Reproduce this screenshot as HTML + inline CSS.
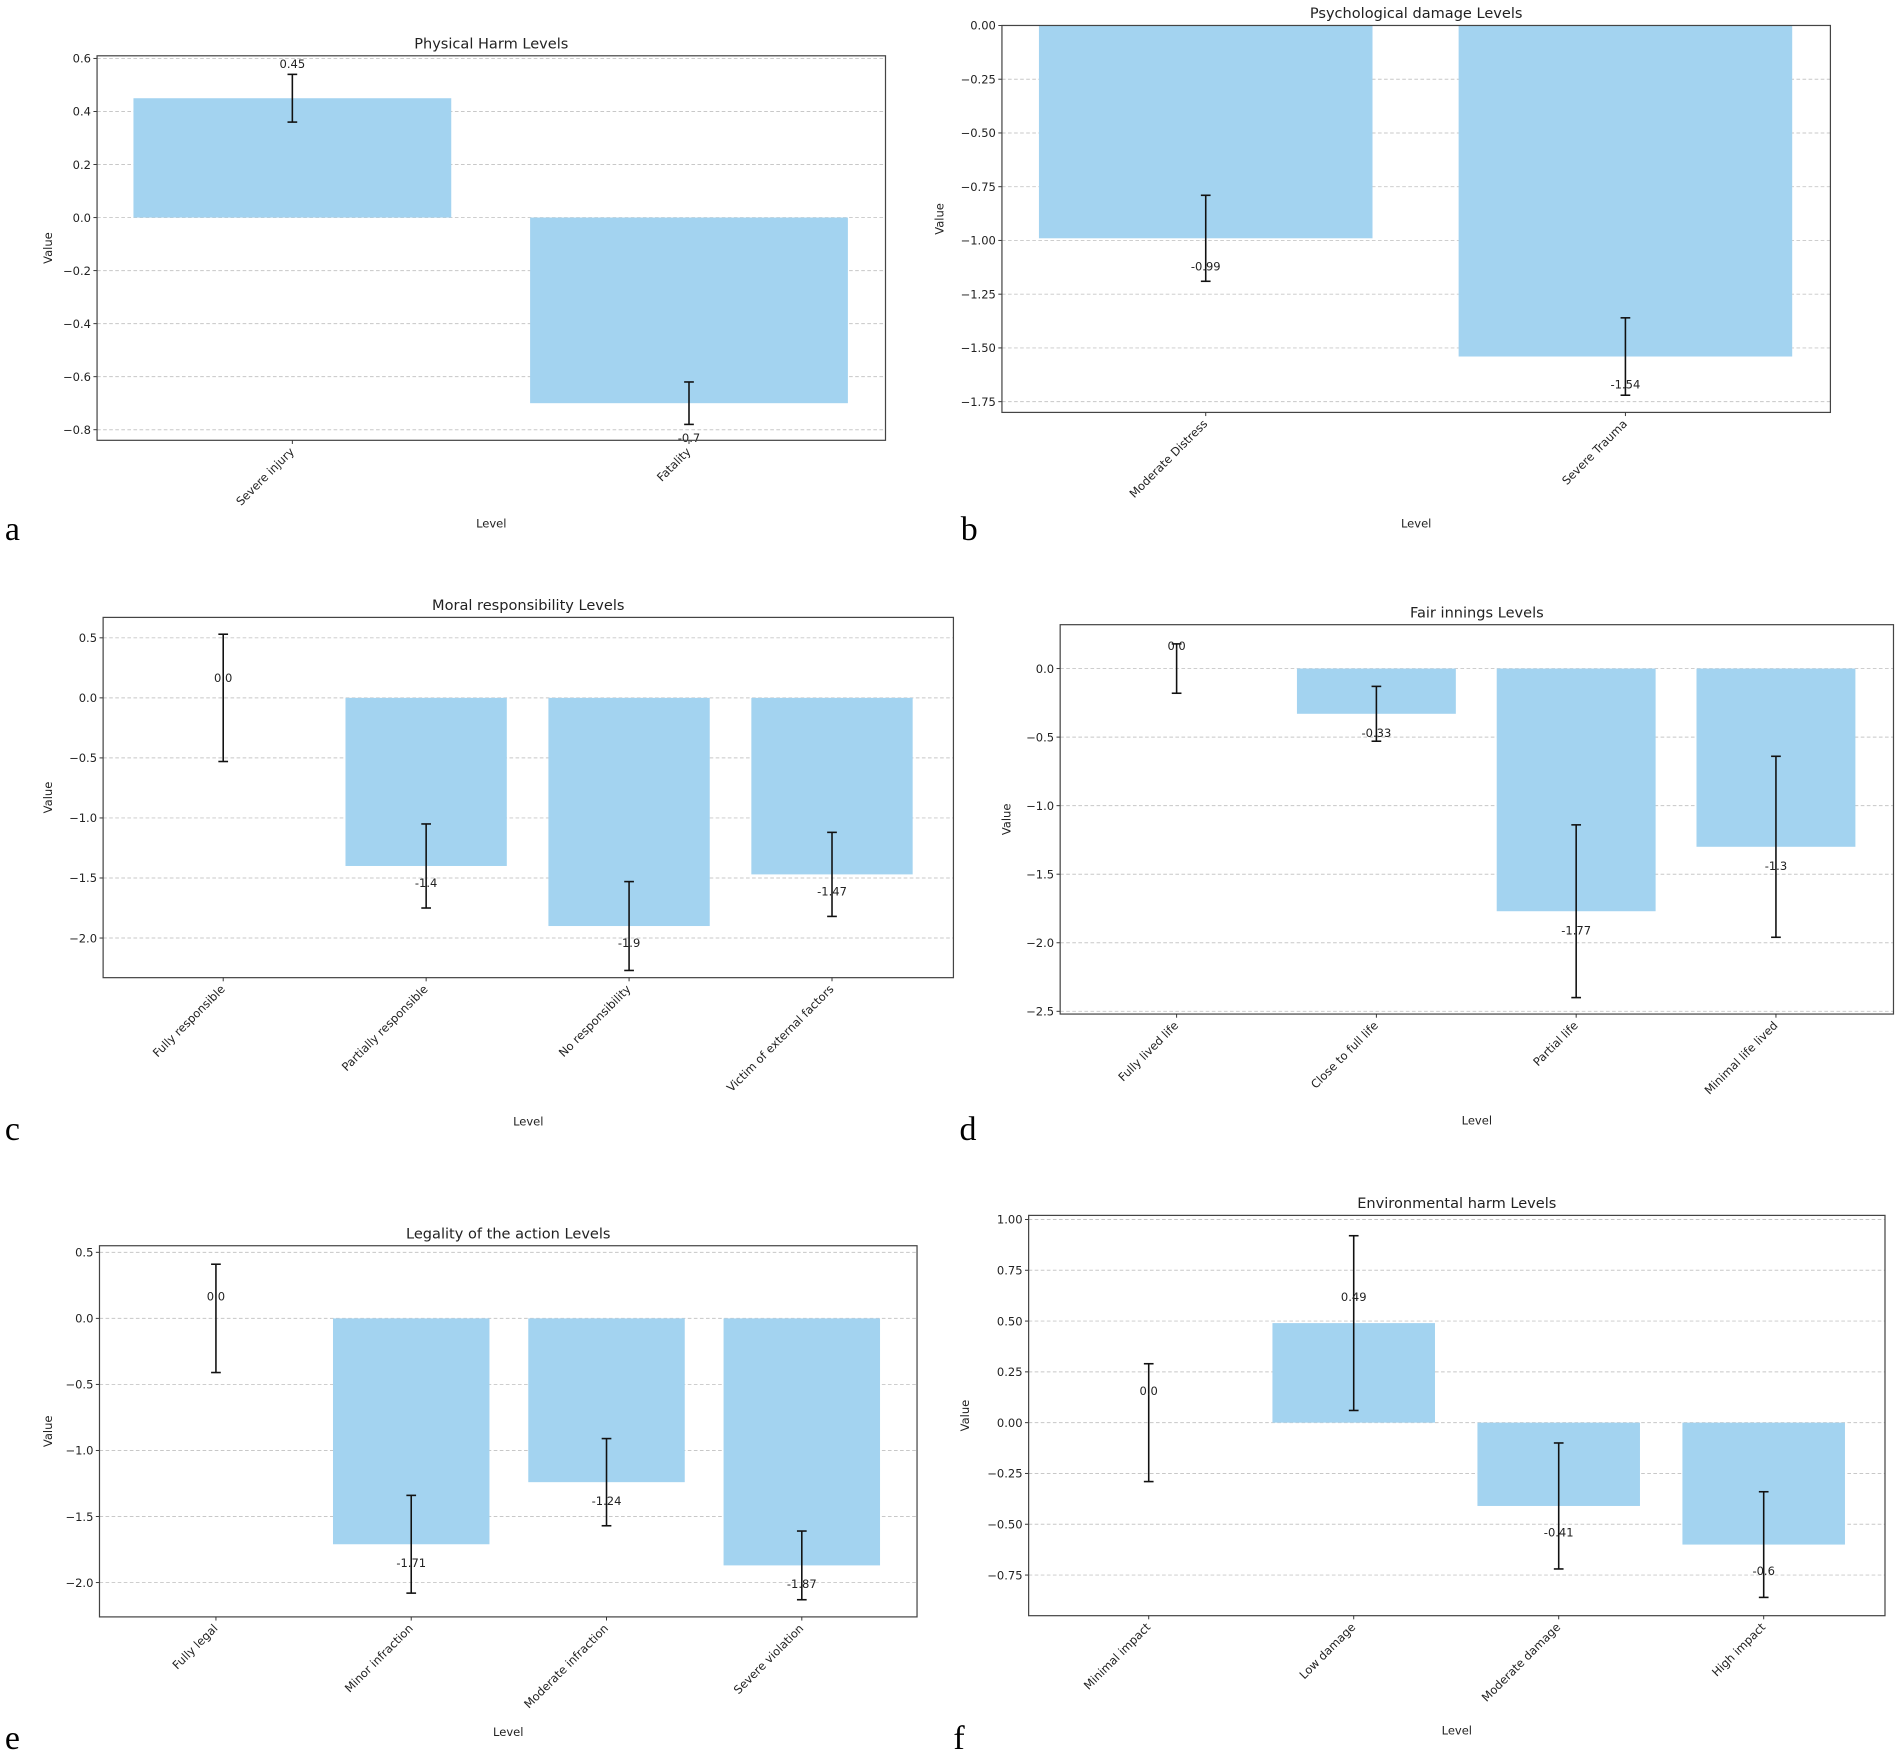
<!DOCTYPE html>
<html><head><meta charset="utf-8">
<style>
html,body{margin:0;padding:0;background:#fff;}
svg{display:block;}
text{font-family:"DejaVu Sans","Liberation Sans",sans-serif;fill:#222;}
.tick{font-size:9.5px;}
.title{font-size:12px;}
.letter{font-family:"Liberation Serif",serif;font-size:28px;fill:#000;}
</style></head>
<body>
<svg id="fig" width="1902" height="1757" viewBox="0 0 1568 1448.5" xmlns="http://www.w3.org/2000/svg"></svg>
<script>
// Panel a
const catsA=["Severe injury","Fatality"];
const valsA=[0.45,-0.7];
const errA=[0.09,0.08];
const ticksA=[0.6,0.4,0.2,0.0,-0.2,-0.4,-0.6,-0.8];
const tickLabA=["0.6","0.4","0.2","0.0","−0.2","−0.4","−0.6","−0.8"];
// Panel b
const catsB=["Moderate Distress","Severe Trauma"];
const valsB=[-0.99,-1.54];
const errB=[0.2,0.18];
const ticksB=[0,-0.25,-0.5,-0.75,-1.0,-1.25,-1.5,-1.75];
const tickLabB=["0.00","−0.25","−0.50","−0.75","−1.00","−1.25","−1.50","−1.75"];
// Panel c
const catsC=["Fully responsible","Partially responsible","No responsibility","Victim of external factors"];
const valsC=[0.0,-1.4,-1.9,-1.47];
const errC=[0.53,0.35,0.37,0.35];
const ticksC=[0.5,0,-0.5,-1.0,-1.5,-2.0];
const tickLabC=["0.5","0.0","−0.5","−1.0","−1.5","−2.0"];
// Panel d
const catsD=["Fully lived life","Close to full life","Partial life","Minimal life lived"];
const valsD=[0.0,-0.33,-1.77,-1.3];
const errD=[0.18,0.2,0.63,0.66];
const ticksD=[0,-0.5,-1.0,-1.5,-2.0,-2.5];
const tickLabD=["0.0","−0.5","−1.0","−1.5","−2.0","−2.5"];
// Panel e
const catsE=["Fully legal","Minor infraction","Moderate infraction","Severe violation"];
const valsE=[0.0,-1.71,-1.24,-1.87];
const errE=[0.41,0.37,0.33,0.26];
const ticksE=[0.5,0,-0.5,-1.0,-1.5,-2.0];
const tickLabE=["0.5","0.0","−0.5","−1.0","−1.5","−2.0"];
// Panel f
const catsF=["Minimal impact","Low damage","Moderate damage","High impact"];
const valsF=[0.0,0.49,-0.41,-0.6];
const errF=[0.29,0.43,0.31,0.26];
const ticksF=[1.0,0.75,0.5,0.25,0,-0.25,-0.5,-0.75];
const tickLabF=["1.00","0.75","0.50","0.25","0.00","−0.25","−0.50","−0.75"];

const NS="http://www.w3.org/2000/svg";
const fig=document.getElementById('fig');
function mk(tag,attrs,parent,txt){const e=document.createElementNS(NS,tag);for(const k in attrs)e.setAttribute(k,attrs[k]);if(txt!==undefined)e.textContent=txt;parent.appendChild(e);return e;}

function panel(o){
  const g=mk('g',{},fig);
  
  
  const ylo=o.ymin, yhi=o.ymax;
  const y=v=>o.top+(yhi-v)/(yhi-ylo)*(o.bottom-o.top);
  const x=i=>o.c0+i*o.step;
  o.ticks.forEach((t,i)=>{
    const gl=mk('line',{x1:o.left,x2:o.right,y1:y(t),y2:y(t),stroke:'#c8c8c8','stroke-width':0.8,'stroke-dasharray':'3,2'},g);
    
    
    mk('line',{x1:o.left-3,x2:o.left,y1:y(t),y2:y(t),stroke:'#333','stroke-width':0.8},g);
    const tl=mk('text',{x:o.left-5,y:y(t)+3.5,'text-anchor':'end',class:'tick'},g,o.tickLab[i]);
    
    
  });
  o.vals.forEach((v,i)=>{
    const y0=y(0),y1=y(v);
    const b=mk('rect',{x:x(i)-o.bw/2,y:Math.min(y0,y1),width:o.bw,height:Math.abs(y1-y0),fill:'#a3d3f0'},g);
    
    
  });
  o.vals.forEach((v,i)=>{
    const e=o.err[i];
    const eg=mk('g',{stroke:'#111','stroke-width':1.3},g);
    
    
    mk('line',{x1:x(i),x2:x(i),y1:y(v+e),y2:y(v-e)},eg);
    mk('line',{x1:x(i)-4,x2:x(i)+4,y1:y(v+e),y2:y(v+e)},eg);
    mk('line',{x1:x(i)-4,x2:x(i)+4,y1:y(v-e),y2:y(v-e)},eg);
    const lv=v>=0? v+o.lab*(v===0?1.2:1): v-o.lab;
    const lt=mk('text',{x:x(i),y:y(lv)+3.5,'text-anchor':'middle',class:'tick'},g,String(v===0?'0.0':v));
    
    
  });
  const fr=mk('rect',{x:o.left,y:o.top,width:o.right-o.left,height:o.bottom-o.top,fill:'none',stroke:'#444','stroke-width':1},g);
  
  
  o.cats.forEach((c,i)=>{
    mk('line',{x1:x(i),x2:x(i),y1:o.bottom,y2:o.bottom+3,stroke:'#333','stroke-width':0.8},g);
    const tx=x(i)+2, ty=o.bottom+10;
    const t=mk('text',{x:tx,y:ty,'text-anchor':'end',class:'tick',transform:`rotate(-45 ${tx} ${ty})`},g,c);
    
    
  });
  const cx=(o.left+o.right)/2;
  const ti=mk('text',{x:cx,y:o.top-6,'text-anchor':'middle',class:'title'},g,o.title);
  
  
  const yl=mk('text',{x:o.yl,y:(o.top+o.bottom)/2,'text-anchor':'middle',class:'tick',transform:`rotate(-90 ${o.yl} ${(o.top+o.bottom)/2})`},g,'Value');
  
  
  const xl=mk('text',{x:cx,y:o.xly,'text-anchor':'middle',class:'tick'},g,'Level');
  
  
  const le=mk('text',{x:o.lx,y:o.ly,class:'letter'},g,o.letter);
  
  
}

panel({id:'a',title:'Physical Harm Levels',cats:catsA,vals:valsA,err:errA,ticks:ticksA,tickLab:tickLabA,
  left:80,right:730,top:46,bottom:363,ymax:0.61,ymin:-0.84,c0:241,step:327,bw:262,lab:0.13,yl:43,xly:435,letter:'a',lx:4,ly:445});
panel({id:'b',title:'Psychological damage Levels',cats:catsB,vals:valsB,err:errB,ticks:ticksB,tickLab:tickLabB,
  left:826,right:1509,top:21,bottom:340,ymax:0,ymin:-1.8,c0:994,step:346,bw:275,lab:0.13,yl:778,xly:435,letter:'b',lx:792,ly:445});
panel({id:'c',title:'Moral responsibility Levels',cats:catsC,vals:valsC,err:errC,ticks:ticksC,tickLab:tickLabC,
  left:85,right:786,top:509,bottom:806,ymax:0.67,ymin:-2.33,c0:184,step:167.3,bw:133,lab:0.14,yl:43,xly:928,letter:'c',lx:4,ly:940});
panel({id:'d',title:'Fair innings Levels',cats:catsD,vals:valsD,err:errD,ticks:ticksD,tickLab:tickLabD,
  left:874,right:1561,top:515,bottom:836,ymax:0.32,ymin:-2.52,c0:970,step:164.7,bw:131,lab:0.14,yl:833,xly:927,letter:'d',lx:791,ly:940});
panel({id:'e',title:'Legality of the action Levels',cats:catsE,vals:valsE,err:errE,ticks:ticksE,tickLab:tickLabE,
  left:82,right:756,top:1027,bottom:1333,ymax:0.55,ymin:-2.26,c0:178,step:161,bw:129,lab:0.14,yl:43,xly:1431,letter:'e',lx:4,ly:1442});
panel({id:'f',title:'Environmental harm Levels',cats:catsF,vals:valsF,err:errF,ticks:ticksF,tickLab:tickLabF,
  left:848,right:1554,top:1002,bottom:1332,ymax:1.02,ymin:-0.95,c0:947,step:169,bw:134,lab:0.13,yl:799,xly:1430,letter:'f',lx:786,ly:1442});
</script>
</body></html>
